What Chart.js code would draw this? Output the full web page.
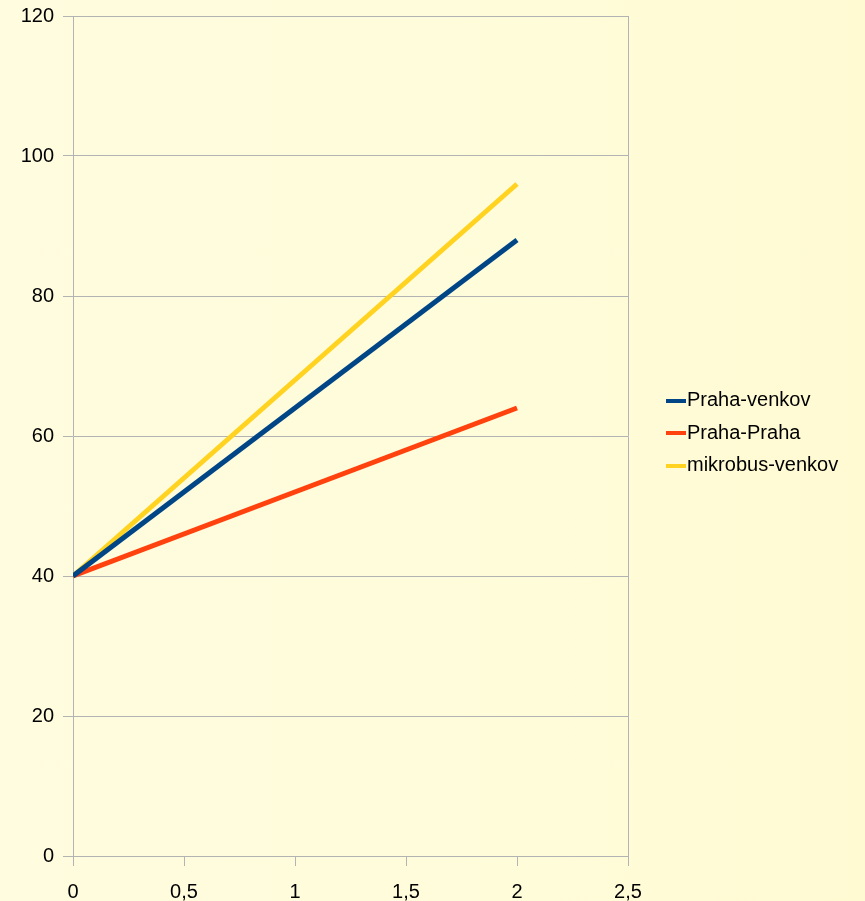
<!DOCTYPE html>
<html>
<head>
<meta charset="utf-8">
<script src="https://cdn.jsdelivr.net/npm/chart.js@4/dist/chart.umd.min.js"></script>
<style>
  html, body { margin: 0; padding: 0; }
  body {
    width: 865px;
    height: 901px;
    overflow: hidden;
    background: linear-gradient(to right, #fffcdf 0%, #fffcda 60%, #fffad2 100%);
  }
  canvas { display: block; }
</style>
</head>
<body>
<canvas id="graf" width="865" height="901"></canvas>
<script>
"use strict";

// hodnoty
const xValues = [0, 2];
const prahaVenkov = [40, 88];
const prahaPraha = [40, 64];
const mikrobusVenkov = [40, 96];

const seriesNames = ["Praha-venkov", "Praha-Praha", "mikrobus-venkov"];
const seriesColors = ["#004586", "#ff420e", "#ffd320"];

const xTicks = [0, 0.5, 1, 1.5, 2, 2.5];
const yTicks = [0, 20, 40, 60, 80, 100, 120];

const gridColor = "#b3b3b3";

Chart.defaults.font.family = "'Liberation Sans', Arial, sans-serif";
Chart.defaults.font.size = 20;
Chart.defaults.color = "#000";

function points(values) {
    return xValues.map((x, i) => ({ x: x, y: values[i] }));
}

// maly obrazek cary do legendy
function swatch(color) {
    const c = document.createElement("canvas");
    c.width = 20;
    c.height = 4;
    const ctx = c.getContext("2d");
    ctx.fillStyle = color;
    ctx.fillRect(0, 0, 20, 4);
    return c;
}

const allValues = [prahaVenkov, prahaPraha, mikrobusVenkov];
const datasets = allValues.map((vals, i) => ({
    label: seriesNames[i],
    data: points(vals),
    borderColor: seriesColors[i],
    backgroundColor: seriesColors[i],
    borderWidth: 5,
    borderCapStyle: "butt",
    pointRadius: 0,
    showLine: true,
    fill: false,
    tension: 0
}));

// sirka legendy napevno, at sedi pozice
const legendWidth = {
    id: "legendWidth",
    afterInit(chart) {
        const legend = chart.legend;
        const fit = legend.fit.bind(legend);
        legend.fit = function () {
            fit();
            this.width = 865 - 661.5;
        };
    }
};

new Chart(document.getElementById("graf"), {
    type: "scatter",
    data: { datasets: datasets },
    plugins: [legendWidth],
    options: {
        responsive: false,
        animation: false,
        layout: { padding: { top: 16, left: 0, right: 0, bottom: 0 } },
        plugins: {
            tooltip: { enabled: false },
            legend: {
                position: "right",
                align: "start",
                // prazdny titulek jen odsune polozky dolu
                title: {
                    display: true,
                    text: "",
                    font: { size: 20, lineHeight: 1.2 },
                    padding: { top: 0, bottom: 338 }
                },
                labels: {
                    usePointStyle: true,
                    pointStyleWidth: 3,
                    padding: 12.5,
                    color: "#000",
                    generateLabels(chart) {
                        return Chart.defaults.plugins.legend.labels.generateLabels(chart).map(item => {
                            item.pointStyle = swatch(seriesColors[item.datasetIndex]);
                            return item;
                        });
                    }
                }
            }
        },
        scales: {
            x: {
                type: "linear",
                min: xTicks[0],
                max: xTicks[xTicks.length - 1],
                afterBuildTicks(scale) {
                    scale.ticks = xTicks.map(v => ({ value: v }));
                },
                afterFit(scale) {
                    scale.height = 45;
                },
                ticks: {
                    padding: 14,
                    maxRotation: 0,
                    callback: v => String(v).replace(".", ",")
                },
                grid: {
                    drawOnChartArea: false,
                    tickLength: 10,
                    color: gridColor
                },
                border: { color: gridColor }
            },
            y: {
                type: "linear",
                min: yTicks[0],
                max: yTicks[yTicks.length - 1],
                afterBuildTicks(scale) {
                    scale.ticks = yTicks.map(v => ({ value: v }));
                },
                afterFit(scale) {
                    scale.width = 73;
                    scale.paddingTop = 0;
                    scale.paddingBottom = 0;
                },
                ticks: { padding: 9 },
                grid: {
                    tickLength: 10,
                    color: gridColor
                },
                border: { color: gridColor }
            },
            // jen prava hrana plochy a mezera k legende
            yRight: {
                type: "linear",
                position: "right",
                min: 0,
                max: 120,
                afterFit(scale) {
                    scale.width = 33.5;
                    scale.paddingTop = 0;
                    scale.paddingBottom = 0;
                },
                ticks: { display: false },
                grid: { display: false },
                border: { display: true, color: gridColor }
            }
        }
    }
});
</script>
</body>
</html>
